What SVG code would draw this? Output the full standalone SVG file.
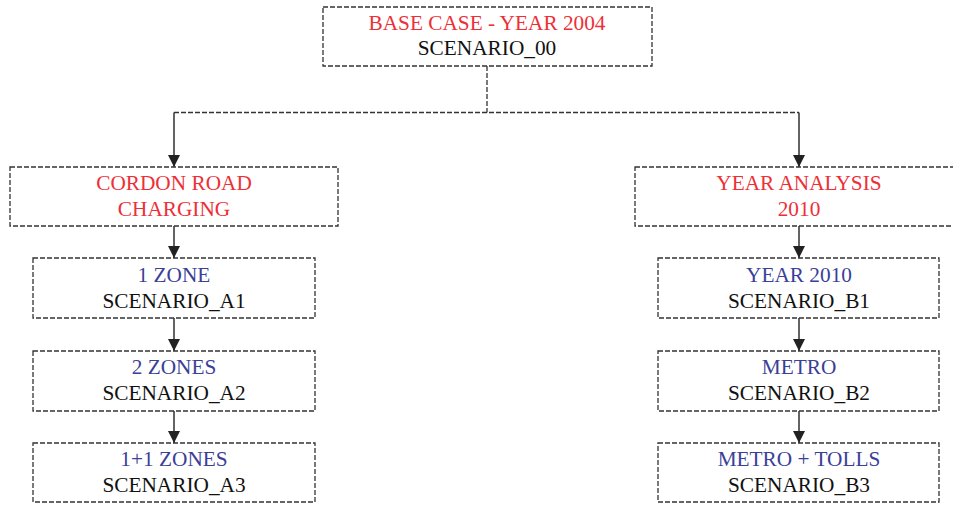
<svg xmlns="http://www.w3.org/2000/svg" width="953" height="505" viewBox="0 0 953 505">
<defs>
<style>
.box{fill:#fff;stroke:#333;stroke-width:1.3;stroke-dasharray:5 2}
.t{font-family:"Liberation Serif","Times New Roman",serif;font-size:21.3px;text-anchor:middle}
.red{fill:#ee2f37}
.blue{fill:#3a3f98}
.blk{fill:#111}
.dash{fill:none;stroke:#333;stroke-width:1.3;stroke-dasharray:5 2}
.arr{fill:none;stroke:#222;stroke-width:1.4;marker-end:url(#ah)}
</style>
<marker id="ah" viewBox="0 0 12 12" refX="12" refY="6" markerWidth="12" markerHeight="12" markerUnits="userSpaceOnUse" orient="auto">
<path d="M0,0 L12,6 L0,12 Z" fill="#222"/>
</marker>
</defs>
<rect width="953" height="505" fill="#fff"/>
<g id="connectors">
<path class="dash" d="M487,66 V112.5 M174,112.5 H799"/>
<path class="arr" d="M174,112.5 V167"/>
<path class="arr" d="M799,112.5 V167"/>
<path class="arr" d="M174,226 V258"/>
<path class="arr" d="M174,318 V351"/>
<path class="arr" d="M174,411 V443"/>
<path class="arr" d="M799,226 V258"/>
<path class="arr" d="M799,318 V351"/>
<path class="arr" d="M799,411 V443"/>
</g>
<g id="base">
<rect class="box" x="323" y="7" width="329" height="59"/>
<text class="t red" x="487" y="30">BASE CASE - YEAR 2004</text>
<text class="t blk" x="487" y="55">SCENARIO_00</text>
</g>
<g id="cordon">
<rect class="box" x="10" y="167" width="328" height="59"/>
<text class="t red" x="174" y="190">CORDON ROAD</text>
<text class="t red" x="174" y="216">CHARGING</text>
</g>
<g id="year">
<rect class="box" x="635" y="167" width="328" height="59"/>
<text class="t red" x="799" y="190">YEAR ANALYSIS</text>
<text class="t red" x="799" y="216">2010</text>
</g>
<g id="a1">
<rect class="box" x="33" y="258" width="282" height="60"/>
<text class="t blue" x="174" y="282">1 ZONE</text>
<text class="t blk" x="174" y="308">SCENARIO_A1</text>
</g>
<g id="a2">
<rect class="box" x="33" y="351" width="282" height="60"/>
<text class="t blue" x="174" y="374">2 ZONES</text>
<text class="t blk" x="174" y="400">SCENARIO_A2</text>
</g>
<g id="a3">
<rect class="box" x="33" y="443" width="282" height="59"/>
<text class="t blue" x="174" y="466">1+1 ZONES</text>
<text class="t blk" x="174" y="492">SCENARIO_A3</text>
</g>
<g id="b1">
<rect class="box" x="658" y="258" width="281" height="60"/>
<text class="t blue" x="799" y="282">YEAR 2010</text>
<text class="t blk" x="799" y="308">SCENARIO_B1</text>
</g>
<g id="b2">
<rect class="box" x="658" y="351" width="281" height="60"/>
<text class="t blue" x="799" y="374">METRO</text>
<text class="t blk" x="799" y="400">SCENARIO_B2</text>
</g>
<g id="b3">
<rect class="box" x="658" y="443" width="281" height="59"/>
<text class="t blue" x="799" y="466">METRO + TOLLS</text>
<text class="t blk" x="799" y="492">SCENARIO_B3</text>
</g>
</svg>
